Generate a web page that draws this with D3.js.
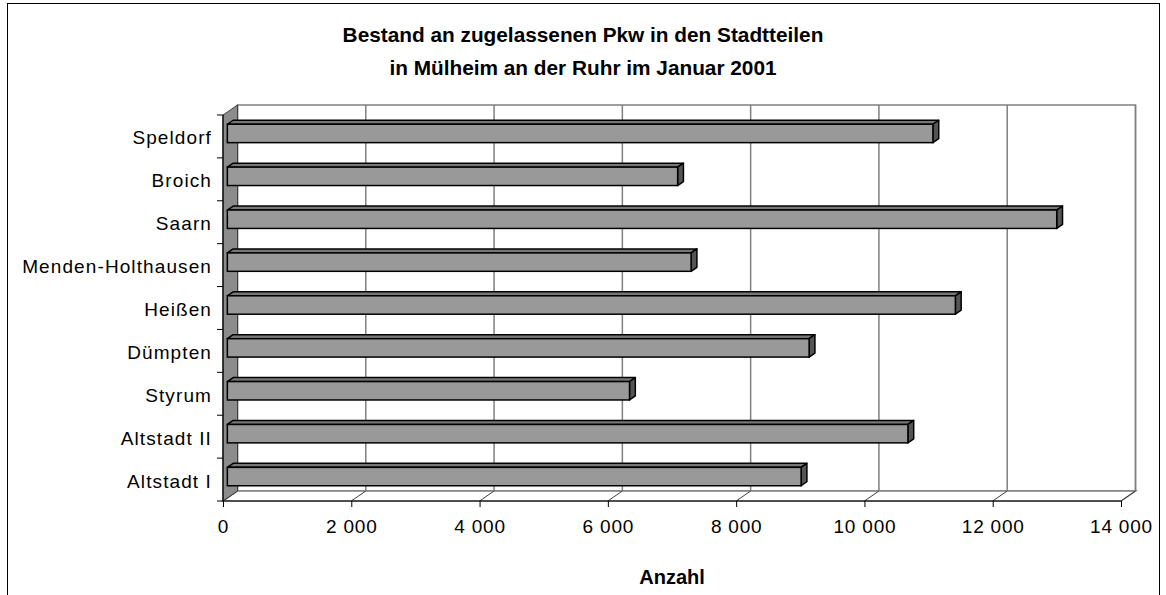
<!DOCTYPE html>
<html>
<head>
<meta charset="UTF-8">
<script src="https://d3js.org/d3.v7.min.js"></script>
<style>
  body { margin: 0; background: #fff; }
  svg text { font-family: "Liberation Sans", Arial, sans-serif; }
</style>
</head>
<body>
<div id="chart"></div>
<script>

// data
var categories = ["Altstadt I", "Altstadt II", "Styrum", "Dümpten", "Heißen",
                  "Menden-Holthausen", "Saarn", "Broich", "Speldorf"];
var values = [8945, 10610, 6270, 9070, 11350, 7230, 12930, 7020, 11000];
var tickValues = [0, 2000, 4000, 6000, 8000, 10000, 12000, 14000];
var titleLines = ["Bestand an zugelassenen Pkw in den Stadtteilen",
                  "in Mülheim an der Ruhr im Januar 2001"];
var axisTitle = "Anzahl";

var W = 1166, H = 595;

// front plane of the 3d box
var pLeft = 223, pRight = 1121, pTop = 115, pBottom = 501;
// depth offset of the back wall
var DX = 14.5, DY = -10;
// bars sit between these depth fractions
var t0 = 0.3, t1 = 0.7;

var svg = d3.select("#chart").append("svg")
  .attr("width", W)
  .attr("height", H);

// outer frame
svg.append("rect")
  .attr("x", 7.5).attr("y", 3.5)
  .attr("width", 1152).attr("height", 600)
  .attr("fill", "white")
  .attr("stroke", "black");

var x = d3.scaleLinear().domain([0, 14000]).range([pLeft, pRight]);
var y = d3.scaleBand().domain(categories.slice().reverse()).range([pTop, pBottom]);

var loc = d3.formatLocale({decimal: ",", thousands: " ", grouping: [3], currency: ["", " €"]});
var fmt = loc.format(",d");

// back wall
svg.append("rect")
  .attr("x", pLeft + DX).attr("y", pTop + DY)
  .attr("width", pRight - pLeft).attr("height", pBottom - pTop)
  .attr("fill", "white")
  .attr("stroke", "#808080")
  .attr("stroke-width", 1.5);

// floor
svg.append("polygon")
  .attr("points", [[pLeft, pBottom], [pLeft + DX, pBottom + DY], [pRight + DX, pBottom + DY], [pRight, pBottom]].join(" "))
  .attr("fill", "white")
  .attr("stroke", "#808080")
  .attr("stroke-width", 1.5);

// gridlines on back wall and floor
tickValues.forEach(function(v) {
  svg.append("line")
    .attr("x1", x(v) + DX).attr("x2", x(v) + DX)
    .attr("y1", pTop + DY).attr("y2", pBottom + DY)
    .attr("stroke", "#808080").attr("stroke-width", 1.5);
  svg.append("line")
    .attr("x1", x(v) + DX).attr("x2", x(v))
    .attr("y1", pBottom + DY).attr("y2", pBottom)
    .attr("stroke", "#404040").attr("stroke-width", 1);
});

// left side wall
svg.append("polygon")
  .attr("points", [[pLeft, pTop], [pLeft + DX, pTop + DY], [pLeft + DX, pBottom + DY], [pLeft, pBottom]].join(" "))
  .attr("fill", "#8c8c8c")
  .attr("stroke", "#404040")
  .attr("stroke-width", 1);

// front edges
svg.append("line")
  .attr("x1", pLeft).attr("x2", pRight)
  .attr("y1", pBottom).attr("y2", pBottom)
  .attr("stroke", "black").attr("stroke-width", 1.2);
svg.append("line")
  .attr("x1", pLeft).attr("x2", pLeft)
  .attr("y1", pTop).attr("y2", pBottom)
  .attr("stroke", "black").attr("stroke-width", 1.2);

// category boundary ticks
var bounds = y.domain().map(function(d) { return y(d); }).concat([pBottom]);
svg.selectAll(".ctick")
  .data(bounds)
  .enter().append("line")
    .attr("x1", pLeft - 6).attr("x2", pLeft)
    .attr("y1", function(d) { return d; })
    .attr("y2", function(d) { return d; })
    .attr("stroke", "black");

// bars
var barH = 18.4;
var ddx = DX * (t1 - t0), ddy = DY * (t1 - t0);
var bars = svg.selectAll(".bar")
  .data(categories.map(function(c, i) { return {cat: c, val: values[i]}; }))
  .enter().append("g");

bars.each(function(d) {
  var g = d3.select(this);
  var yc = y(d.cat) + y.bandwidth() / 2 + DY * t0;
  var yt = yc - barH / 2, yb = yc + barH / 2;
  var x0 = x(0) + DX * t0, x1 = x(d.val) + DX * t0;
  // top face
  g.append("polygon")
    .attr("points", [[x0, yt], [x0 + ddx, yt + ddy], [x1 + ddx, yt + ddy], [x1, yt]].join(" "))
    .attr("fill", "#777777").attr("stroke", "black").attr("stroke-width", 1.5)
    .attr("stroke-linejoin", "round");
  // end face
  g.append("polygon")
    .attr("points", [[x1, yt], [x1 + ddx, yt + ddy], [x1 + ddx, yb + ddy], [x1, yb]].join(" "))
    .attr("fill", "#555555").attr("stroke", "black").attr("stroke-width", 1.5)
    .attr("stroke-linejoin", "round");
  // front face
  g.append("rect")
    .attr("x", x0).attr("y", yt)
    .attr("width", x1 - x0).attr("height", barH)
    .attr("fill", "#999999").attr("stroke", "black").attr("stroke-width", 1.5);
});

// category labels
svg.append("g")
  .attr("transform", "translate(" + pLeft + ",0)")
  .call(d3.axisLeft(y).tickSize(0).tickPadding(11))
  .call(function(g) { g.select(".domain").remove(); })
  .selectAll("text")
    .attr("dy", "0.42em")
    .style("font-size", "19px")
    .style("letter-spacing", "1.1px")
    .attr("fill", "black");

// value axis
svg.append("g")
  .attr("transform", "translate(0," + pBottom + ")")
  .call(d3.axisBottom(x).tickValues(tickValues).tickFormat(fmt).tickSize(6).tickPadding(13))
  .call(function(g) { g.select(".domain").remove(); })
  .call(function(g) { g.selectAll("line").attr("stroke", "black"); })
  .selectAll("text")
    .style("font-size", "19px")
    .style("letter-spacing", "0.8px")
    .attr("fill", "black");

// titles
svg.selectAll(".title")
  .data(titleLines)
  .enter().append("text")
    .attr("x", W / 2)
    .attr("y", function(d, i) { return 42 + i * 33; })
    .attr("text-anchor", "middle")
    .style("font-size", "20.8px")
    .style("font-weight", "bold")
    .text(function(d) { return d; });

svg.append("text")
  .attr("x", (pLeft + pRight) / 2)
  .attr("y", 584)
  .attr("text-anchor", "middle")
  .style("font-size", "20px")
  .style("font-weight", "bold")
  .text(axisTitle);

</script>
</body>
</html>
